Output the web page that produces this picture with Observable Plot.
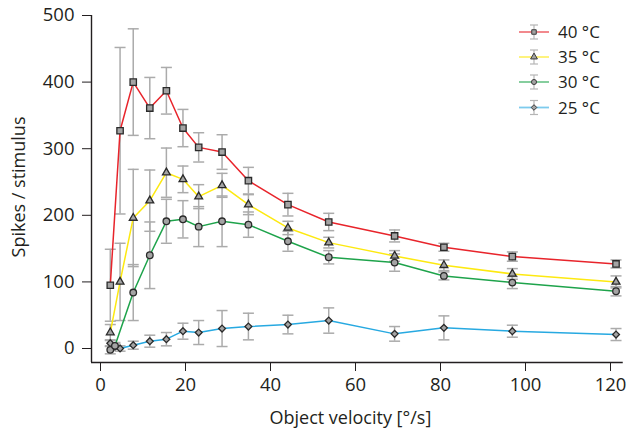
<!DOCTYPE html>
<html><head><meta charset="utf-8">
<script src="https://cdn.jsdelivr.net/npm/d3@7"></script>
<script src="https://cdn.jsdelivr.net/npm/@observablehq/plot@0.6"></script>
<style>
body{margin:0;background:#fff;}
#wrap{position:relative;width:627px;height:435px;font-family:"Open Sans",sans-serif;}
#legend{position:absolute;left:0;top:0;pointer-events:none;}
</style></head><body><div id="wrap"></div>
<script>
// ---- data ----
const seriesNames = ["40 °C", "35 °C", "30 °C", "25 °C"];
const seriesColors = ["#e8242b", "#fde910", "#1ea34b", "#27a9e1"];
const seriesSymbols = ["square", "triangle", "circle", "diamond2"];
const xTitle = "Object velocity [°/s]";
const yTitle = "Spikes / stimulus";

const v40 = [2.3, 4.6, 7.7, 11.6, 15.5, 19.4, 23.1, 28.6, 34.8, 44.1, 53.7, 69.2, 80.8, 96.9, 121.3];
const m40 = [95, 327, 400, 361, 387, 331, 302, 295, 252, 216, 190, 169, 152, 138, 127];
const e40 = [54, 125, 80, 46, 35, 28, 22, 26, 20, 17, 13, 9, 6, 7, 6];

const v35 = [2.3, 4.6, 7.7, 11.6, 15.5, 19.4, 23.1, 28.6, 34.8, 44.1, 53.7, 69.2, 80.8, 96.9, 121.3];
const m35 = [24, 100, 196, 222, 264, 254, 228, 245, 216, 181, 159, 139, 125, 112, 100];
const e35 = [12, 58, 73, 46, 37, 20, 18, 18, 15, 10, 8, 8, 8, 8, 9];

const v30 = [2.3, 3.4, 7.7, 11.6, 15.5, 19.4, 23.1, 28.6, 34.8, 44.1, 53.7, 69.2, 80.8, 96.9, 121.3];
const m30 = [-2, 4, 84, 140, 191, 194, 183, 191, 186, 161, 137, 129, 109, 99, 86];
const e30 = [6, 5, 42, 50, 33, 28, 30, 38, 19, 15, 10, 13, 6, 9, 7];

const v25 = [2.3, 3.4, 4.6, 7.7, 11.6, 15.5, 19.4, 23.1, 28.6, 34.8, 44.1, 53.7, 69.2, 80.8, 96.9, 121.3];
const m25 = [8, 3, 0, 5, 11, 14, 26, 24, 30, 33, 36, 42, 22, 31, 26, 21];
const e25 = [5, 4, 4, 6, 9, 10, 12, 18, 27, 20, 14, 19, 11, 18, 9, 9];

const xTicks = [0, 20, 40, 60, 80, 100, 120];
const yTicks = [0, 100, 200, 300, 400, 500];
const xDomain = [-2.12, 123];
const yDomain = [-21, 500];

// ---- table ----
const groups = [[seriesNames[3], v25, m25, e25], [seriesNames[2], v30, m30, e30],
                [seriesNames[1], v35, m35, e35], [seriesNames[0], v40, m40, e40]];
const rows = [];
for (const [s, vs, ms, es] of groups) vs.forEach((v, i) => rows.push({series: s, v, m: ms[i], lo: ms[i] - es[i], hi: ms[i] + es[i]}));

const cap = {draw(ctx, size) { const w = Math.sqrt(size / Math.PI); ctx.moveTo(-w, 0); ctx.lineTo(w, 0); }};
const ink = "#231f20";
const markerR = {"square": 3.6, "triangle": 2.9, "circle": 3.3, "diamond2": 3.1};

const markerMarks = [3, 2, 1, 0].map(i => Plot.dot(rows.filter(d => d.series === seriesNames[i]), {
  x: "v", y: "m", symbol: seriesSymbols[i], r: markerR[seriesSymbols[i]],
  fill: "#a4a4a4", stroke: "#2a2a2a", strokeWidth: 1.3
}));

const chart = Plot.plot({
  width: 627, height: 435,
  marginLeft: 91, marginRight: 4.25, marginTop: 15, marginBottom: 73,
  style: {fontFamily: "Open Sans, sans-serif", fontSize: "18.5px", color: ink, background: "#fff"},
  x: {domain: xDomain, ticks: xTicks, tickSize: 9, tickPadding: 6, label: null},
  y: {domain: yDomain, ticks: yTicks, tickSize: 9, tickPadding: 8, label: null},
  color: {domain: seriesNames, range: seriesColors},
  marks: [
    Plot.ruleX(rows, {x: "v", y1: "lo", y2: "hi", stroke: "#ababab", strokeWidth: 1.5}),
    Plot.dot(rows, {x: "v", y: "lo", symbol: cap, r: 5.5, stroke: "#ababab", strokeWidth: 1.5}),
    Plot.dot(rows, {x: "v", y: "hi", symbol: cap, r: 5.5, stroke: "#ababab", strokeWidth: 1.5}),
    Plot.line(rows, {x: "v", y: "m", z: "series", stroke: "series", strokeWidth: 1.5}),
    ...markerMarks,
    Plot.ruleY([yDomain[0]], {x1: xDomain[0], x2: xDomain[1], stroke: ink, strokeWidth: 1.4}),
    Plot.ruleX([xDomain[0]], {y1: yDomain[0], y2: yDomain[1], stroke: ink, strokeWidth: 1.4}),
    Plot.text([xTitle], {frameAnchor: "bottom", textAnchor: "middle", dx: -7, dy: 56, lineAnchor: "middle", fontSize: 18, fill: ink}),
    Plot.text([yTitle], {frameAnchor: "left", textAnchor: "middle", dx: -72, dy: -2, rotate: -90, lineAnchor: "middle", fontSize: 18, fill: ink})
  ]
});
const wrap = document.getElementById("wrap");
wrap.appendChild(chart);

// ---- legend (overlay, top right) ----
const leg = d3.select(wrap).append("svg").attr("id", "legend").attr("width", 627).attr("height", 130);
const legY = [32, 57, 82, 107.5];
seriesNames.forEach((s, i) => {
  const g = leg.append("g").attr("transform", `translate(534,${legY[i]})`);
  g.append("line").attr("x1", -15).attr("x2", 15).attr("stroke", seriesColors[i]).attr("stroke-opacity", 0.6).attr("stroke-width", 1.8);
  g.append("line").attr("y1", -7).attr("y2", 7).attr("stroke", "#b5b5b5").attr("stroke-width", 1.2);
  g.append("line").attr("x1", -4).attr("x2", 4).attr("y1", -7).attr("y2", -7).attr("stroke", "#b5b5b5").attr("stroke-width", 1.2);
  g.append("line").attr("x1", -4).attr("x2", 4).attr("y1", 7).attr("y2", 7).attr("stroke", "#b5b5b5").attr("stroke-width", 1.2);
  const sym = {square: d3.symbolSquare, triangle: d3.symbolTriangle, circle: d3.symbolCircle, diamond2: d3.symbolDiamond2}[seriesSymbols[i]];
  g.append("path").attr("d", d3.symbol(sym, 20)()).attr("fill", "#a4a4a4").attr("stroke", "#3a3a3a").attr("stroke-width", 1);
  leg.append("text").attr("x", 558).attr("y", legY[i]).attr("dy", "0.36em")
    .attr("font-family", "Open Sans, sans-serif").attr("font-size", 17).attr("fill", ink).text(s);
});
</script></body></html>
